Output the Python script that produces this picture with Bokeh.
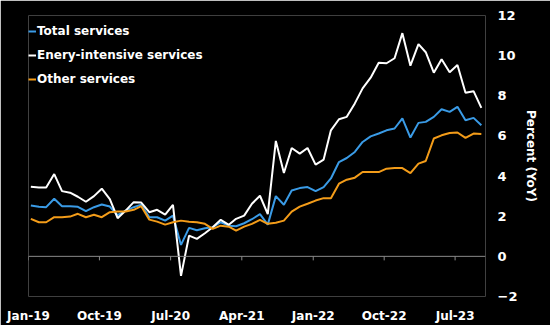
from datetime import datetime
from bokeh.plotting import figure
from bokeh.models import (Range1d, FixedTicker, DatetimeTickFormatter, Span,
                          Legend, LegendItem)
from bokeh.embed import file_html
from bokeh.resources import INLINE

# ---- data (monthly, Jan-2019 .. Oct-2023) ----
months = [datetime(2019 + (m // 12), m % 12 + 1, 10) for m in range(58)]

total_services = [
    2.53, 2.47, 2.45, 2.87, 2.50, 2.50, 2.47, 2.25, 2.45, 2.58, 2.48, 2.05,
    2.28, 2.45, 2.58, 1.95, 1.95, 1.78, 2.03, 0.57, 1.42, 1.30, 1.40, 1.45,
    1.70, 1.53, 1.50, 1.65, 1.85, 2.10, 1.58, 3.00, 2.57, 3.28, 3.40, 3.45,
    3.25, 3.45, 3.88, 4.70, 4.90, 5.20, 5.70, 5.98, 6.12, 6.28, 6.37, 6.87,
    5.92, 6.65, 6.70, 6.95, 7.33, 7.20, 7.45, 6.78, 6.90, 6.53]

energy_intensive = [
    3.47, 3.43, 3.43, 4.10, 3.25, 3.17, 2.97, 2.72, 3.00, 3.37, 2.85, 1.90,
    2.28, 2.70, 2.68, 2.20, 2.32, 2.08, 2.57, -0.97, 1.03, 0.87, 1.15, 1.45,
    1.82, 1.57, 1.87, 2.03, 2.62, 3.02, 2.10, 5.75, 4.15, 5.40, 5.12, 5.40,
    4.57, 4.82, 6.28, 6.83, 6.95, 7.62, 8.37, 8.90, 9.65, 9.62, 9.87, 11.12,
    9.50, 10.57, 10.17, 9.15, 9.82, 9.17, 9.53, 8.15, 8.23, 7.40]

other_services = [
    1.87, 1.70, 1.70, 1.95, 1.95, 1.98, 2.12, 1.95, 2.07, 1.95, 2.20, 2.23,
    2.23, 2.32, 2.50, 1.83, 1.73, 1.58, 1.70, 1.78, 1.73, 1.70, 1.62, 1.37,
    1.53, 1.48, 1.28, 1.48, 1.62, 1.82, 1.62, 1.67, 1.78, 2.23, 2.48, 2.62,
    2.78, 2.90, 2.90, 3.62, 3.82, 3.92, 4.20, 4.20, 4.20, 4.37, 4.40, 4.40,
    4.15, 4.62, 4.75, 5.87, 6.03, 6.15, 6.17, 5.90, 6.12, 6.10]

series_names = ["Total services", "Enery-intensive services", "Other services"]
series_colors = ["#3a9be6", "#ffffff", "#f39c19"]

x_tick_dates = [datetime(2019, 1, 1), datetime(2019, 10, 1), datetime(2020, 7, 1),
                datetime(2021, 4, 1), datetime(2022, 1, 1), datetime(2022, 10, 1),
                datetime(2023, 7, 1)]
y_ticks = [-2, 0, 2, 4, 6, 8, 10, 12]

FONT = "DejaVu Sans"
BG = "#000000"

p = figure(width=550, height=325, output_backend="svg", toolbar_location=None,
           x_axis_type="datetime", x_axis_location="below", y_axis_location="right",
           background_fill_color=BG, border_fill_color=BG, outline_line_color=None,
           min_border_left=28, min_border_right=65, min_border_top=15,
           min_border_bottom=29)

p.x_range = Range1d(start=datetime(2019, 1, 1), end=datetime(2023, 10, 26))
p.y_range = Range1d(start=-2, end=12)

p.xgrid.visible = False
p.ygrid.visible = False

# zero line and its small tick marks
p.add_layout(Span(location=0, dimension="width", line_color="#8a8a8a", line_width=1))
p.segment(x0=x_tick_dates, x1=x_tick_dates, y0=[0] * len(x_tick_dates),
          y1=[-0.2] * len(x_tick_dates), line_color="#8a8a8a", line_width=1)

renderers = []
for vals, col in zip([total_services, energy_intensive, other_services], series_colors):
    r = p.line(months, vals, line_color=col, line_width=2)
    renderers.append(r)

# x axis
xa = p.xaxis[0]
xa.ticker = FixedTicker(ticks=[d.timestamp() * 1000 for d in x_tick_dates])
xa.formatter = DatetimeTickFormatter(days="%b-%y", months="%b-%y", years="%b-%y")
xa.axis_line_color = None
xa.major_tick_line_color = None
xa.minor_tick_line_color = None
xa.major_label_standoff = 6
xa.major_label_text_color = "#ffffff"
xa.major_label_text_font = FONT
xa.major_label_text_font_style = "bold"
xa.major_label_text_font_size = "12px"

# y axis (right)
ya = p.yaxis[0]
ya.ticker = FixedTicker(ticks=y_ticks)
ya.axis_line_color = None
ya.major_tick_line_color = None
ya.minor_tick_line_color = None
ya.major_label_standoff = 6
ya.major_label_text_color = "#ffffff"
ya.major_label_text_font = FONT
ya.major_label_text_font_style = "bold"
ya.major_label_text_font_size = "13px"
ya.axis_label = "Percent (YoY)"
ya.axis_label_text_color = "#ffffff"
ya.axis_label_text_font = FONT
ya.axis_label_text_font_style = "bold"
ya.axis_label_text_font_size = "12px"
ya.axis_label_standoff = 4

legend = Legend(items=[LegendItem(label=n, renderers=[r]) for n, r in zip(series_names, renderers)],
                location=(0, 210), orientation="vertical",
                background_fill_alpha=0, border_line_color=None,
                padding=0, margin=0, spacing=10,
                glyph_width=8, glyph_height=14, label_height=14, label_standoff=1,
                label_text_color="#ffffff", label_text_font=FONT,
                label_text_font_style="bold", label_text_font_size="12px")
p.add_layout(legend)

open("out.html", "w").write(file_html(p, INLINE))
